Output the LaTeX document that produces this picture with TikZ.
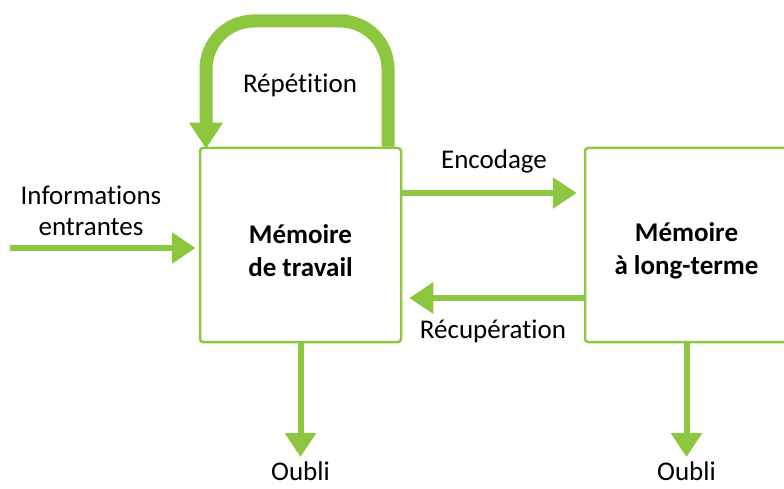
\documentclass[tikz,border=0pt]{standalone}
\usepackage{fontspec}
\setmainfont{Carlito}[Ligatures=NoCommon]
\usetikzlibrary{arrows.meta,calc}
\definecolor{leaf}{RGB}{141,198,63}
\begin{document}
\begin{tikzpicture}[x=1pt,y=-1pt,
  every node/.style={font=\fontsize{27}{31}\selectfont,align=center},
  membox/.style={draw=leaf,line width=2.5pt,rounded corners=3pt,minimum width=201pt,minimum height=194pt},
  boxtext/.style={font=\fontsize{27}{33}\selectfont\bfseries},
  flow/.style={draw=leaf,line width=6pt,-{Triangle[length=24pt,width=30pt]}},
  loopflow/.style={draw=leaf,line width=13pt,rounded corners=48pt,-{Triangle[length=26pt,width=32pt]}}]
\useasboundingbox (0,0) rectangle (784,489);
% the two stores
\node[membox] (wm) at (300.5,245) {};
\node[membox,minimum width=203pt] (ltm) at (686.5,245) {};
\node[boxtext] (wmtext) at ([yshift=-6pt]wm) {Mémoire\\de travail};
\node[boxtext] (ltmtext) at ([yshift=-6pt]ltm) {Mémoire\\à long-terme};
% labels
\node (rep) at (300,85) {Répétition};
\node (info) at (91,211) {Informations\\entrantes};
\node (enc) at (494,161) {Encodage};
\node (rec) at (493,331) {Récupération};
\node[anchor=north,inner sep=0pt] (o1) at (300.5,462) {Oubli};
\node[anchor=north,inner sep=0pt] (o2) at (686.5,462) {Oubli};
\coordinate (start) at (10,248);
% arrows
\draw[loopflow] ([xshift=87.5pt]wm.north) |- (300,21) -| ([xshift=-94.5pt,yshift=-2pt]wm.north);
\draw[flow,shorten >=3pt] (start) -- (start -| wm.west);
\draw[flow,shorten >=7pt] (wm.east |- 0,193) -- (ltm.west |- 0,193);
\draw[flow,shorten >=7pt] (ltm.west |- 0,298) -- (wm.east |- 0,298);
\draw[flow] (wm.south) -- ([yshift=5pt]o1.north);
\draw[flow] (ltm.south) -- ([yshift=5pt]o2.north);
\end{tikzpicture}
\end{document}
